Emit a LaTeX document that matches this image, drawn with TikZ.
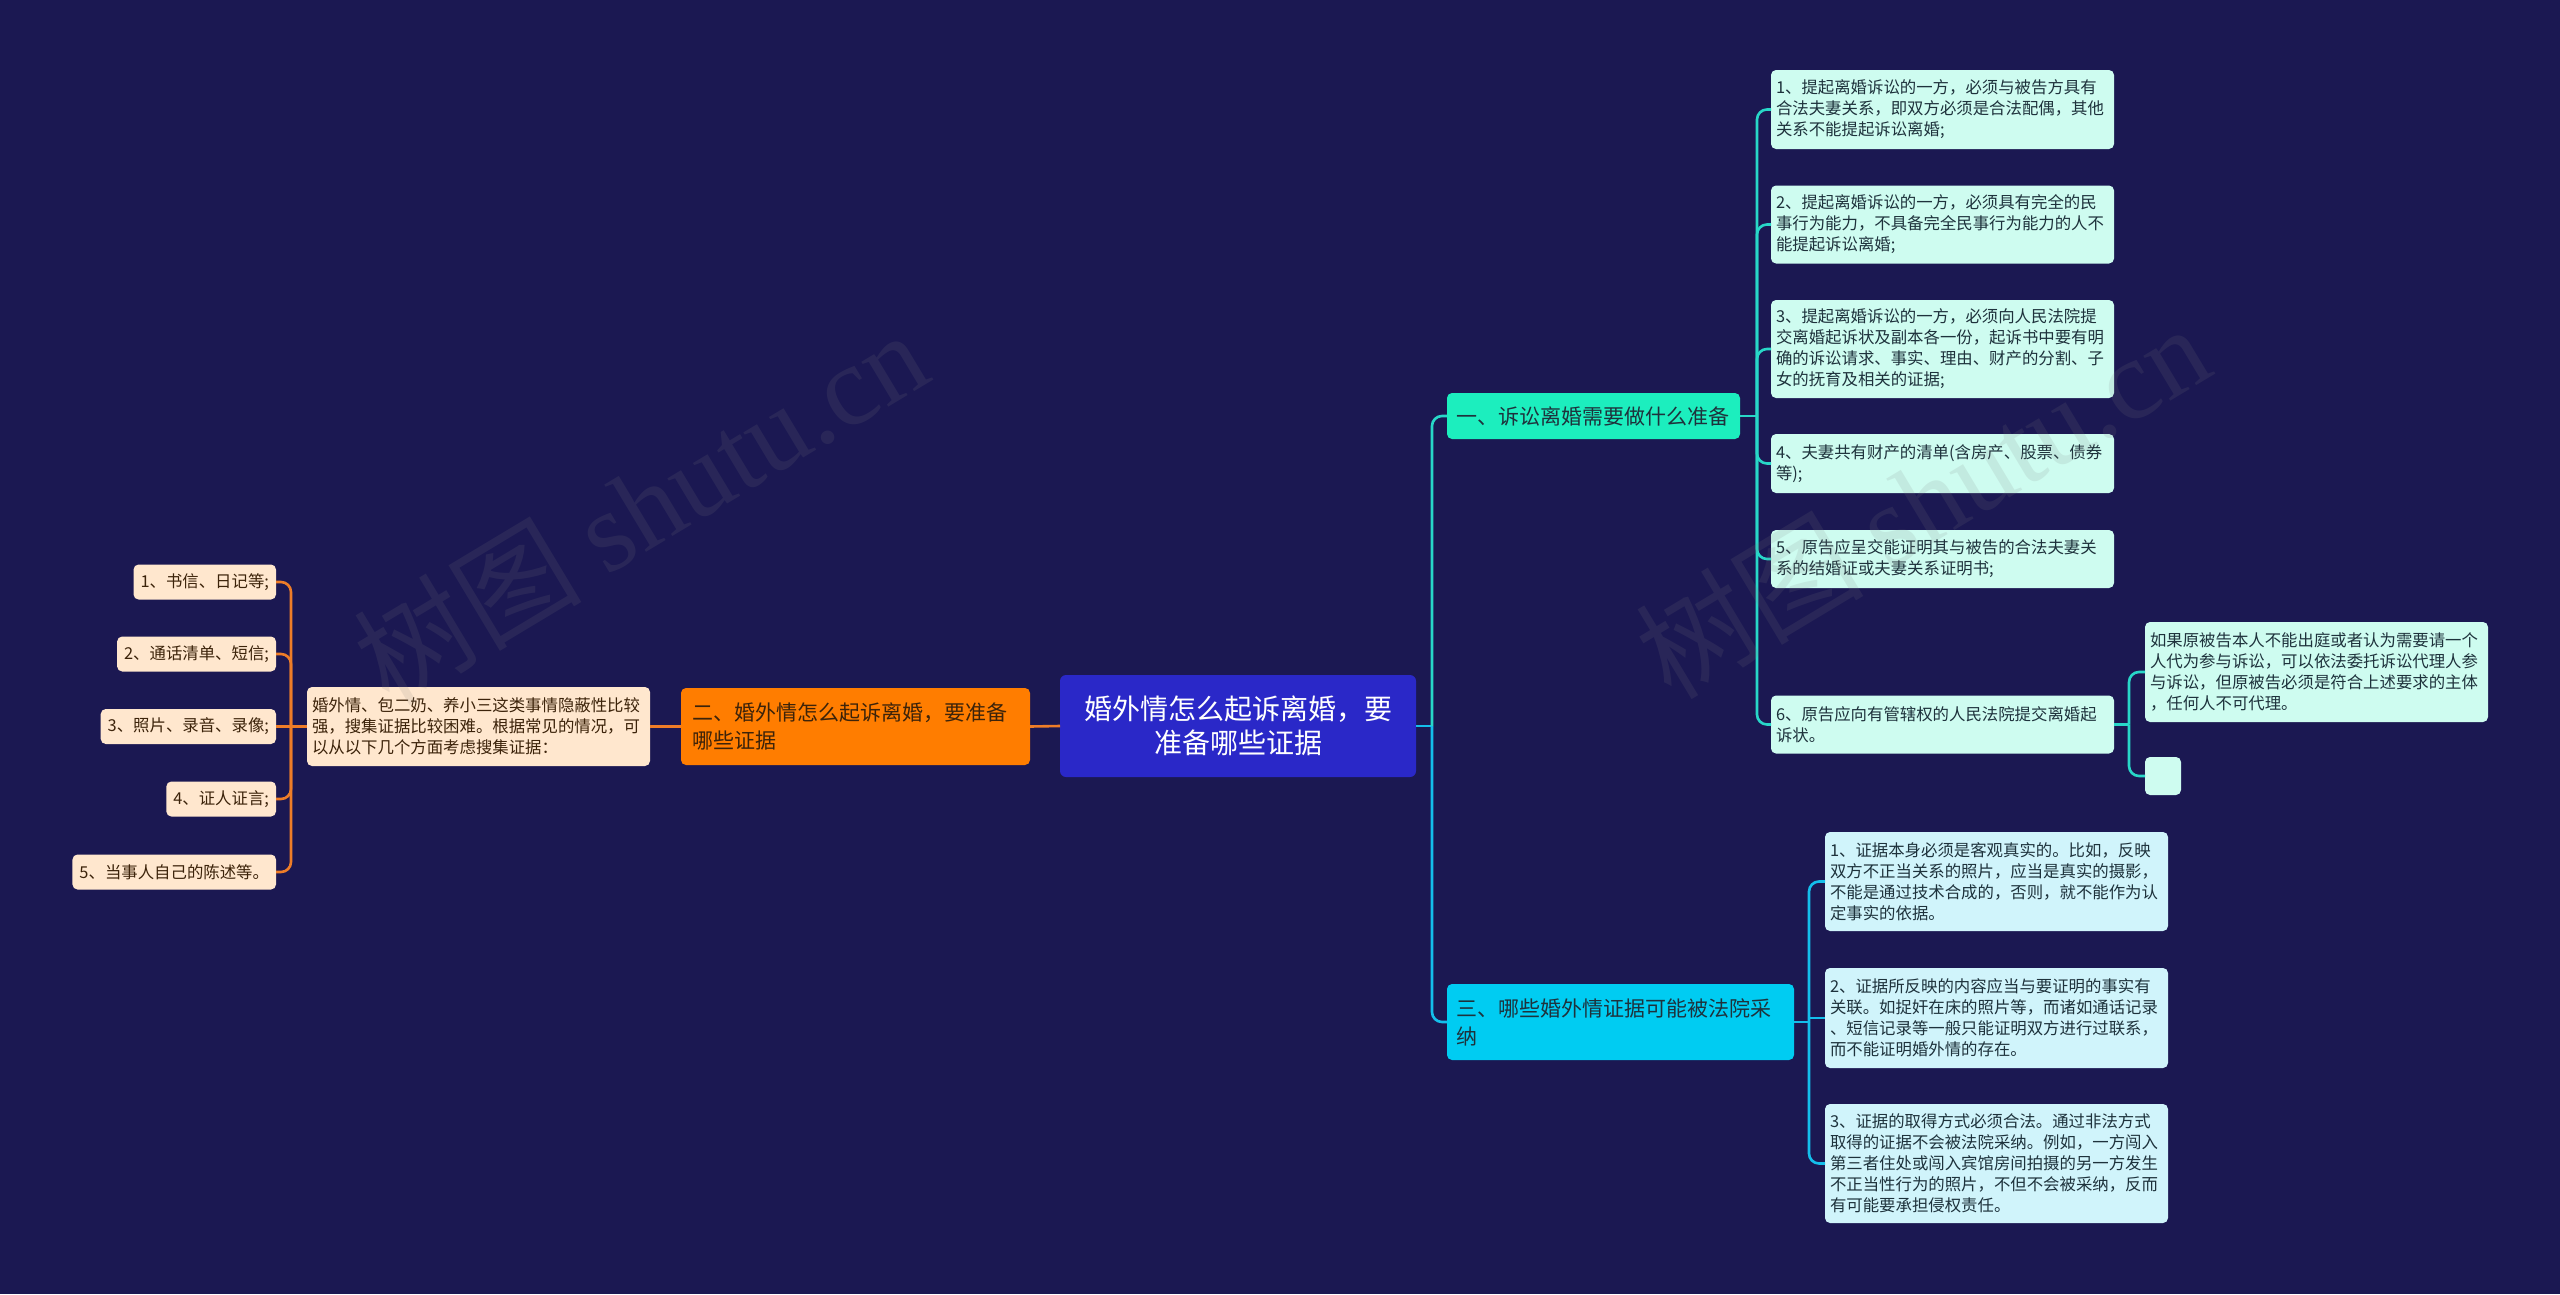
\documentclass[tikz,border=0pt]{standalone}
\usepackage{fontspec}
\setmainfont{Noto Sans CJK SC}
\newfontfamily\wmlatin{Liberation Serif}
\usetikzlibrary{calc}
\definecolor{bg}{RGB}{27,24,82}
\definecolor{rootc}{RGB}{42,40,200}
\definecolor{orgc}{RGB}{255,125,0}
\definecolor{orgline}{RGB}{238,125,40}
\definecolor{tealc}{RGB}{28,238,190}
\definecolor{tealline}{RGB}{40,215,200}
\definecolor{cyanc}{RGB}{0,204,242}
\definecolor{cyanline}{RGB}{20,190,235}
\definecolor{mint}{RGB}{206,252,240}
\definecolor{ice}{RGB}{208,244,251}
\definecolor{peach}{RGB}{255,231,206}
\definecolor{darktext}{RGB}{30,50,60}
\definecolor{browntext}{RGB}{60,35,10}
\newcommand\leaffont{\fontsize{16.4}{21}\selectfont}
\newcommand\branchfont{\fontsize{21}{28}\selectfont}
\newcommand\rootfont{\fontsize{28}{34}\selectfont}
\begin{document}
\begin{tikzpicture}[x=1pt,y=-1pt,
  box/.style={rounded corners=5pt, inner ysep=0pt, outer sep=0pt},
  leafR/.style={box, fill=mint, text=darktext, font=\leaffont, text width=333pt, inner xsep=5pt, align=left},
  leafB/.style={box, fill=ice, text=darktext, font=\leaffont, text width=333pt, inner xsep=5pt, align=left},
  leafL/.style={box, fill=peach, text=browntext, font=\leaffont, inner xsep=7pt, minimum height=35pt, anchor=east},
  rootbox/.style={box, rounded corners=6pt, fill=rootc, text=white, font=\rootfont, align=center, text width=340pt, inner xsep=8pt, minimum height=102pt},
  orgbox/.style={box, fill=orgc, text=browntext, font=\branchfont, align=left, text width=327pt, inner xsep=11pt, minimum height=77pt},
  tealbox/.style={box, fill=tealc, text=darktext, font=\branchfont, align=left, text width=275pt, inner xsep=9pt, minimum height=46pt},
  cyanbox/.style={box, fill=cyanc, text=darktext, font=\branchfont, align=left, text width=329pt, inner xsep=9pt, minimum height=76pt},
  tl/.style={draw=tealline, line width=2.6pt, rounded corners=10pt},
  cl/.style={draw=cyanline, line width=2.6pt, rounded corners=10pt},
  ol/.style={draw=orgline, line width=2.6pt, rounded corners=10pt},
  wm/.style={text=gray, opacity=0.14, font=\fontsize{114}{114}\selectfont, rotate=31}
]
\fill[bg] (0,0) rectangle (2560,1294);
\useasboundingbox (0,0) rectangle (2560,1294);

% root and main branches
\node[rootbox] (root) at (1238,726) {婚外情怎么起诉离婚，要\\准备哪些证据};
\node[orgbox] (b2) at (855.5,726.5) {二、婚外情怎么起诉离婚，要准备\\哪些证据};
\node[tealbox] (b1) at (1593.5,416) {一、诉讼离婚需要做什么准备};
\node[cyanbox] (b3) at (1620.5,1022) {三、哪些婚外情证据可能被法院采\\纳};

% left side
\node[box, fill=peach, text=browntext, font=\leaffont, text width=333pt, inner xsep=5pt, align=left, minimum height=79pt] (desc) at (478.5,726.5) {婚外情、包二奶、养小三这类事情隐蔽性比较\\强，搜集证据比较困难。根据常见的情况，可\\以从以下几个方面考虑搜集证据：};
\node[leafL] (l1) at (276,582) {1、书信、日记等;};
\node[leafL] (l2) at (276,654) {2、通话清单、短信;};
\node[leafL] (l3) at (276,726.5) {3、照片、录音、录像;};
\node[leafL] (l4) at (276,799) {4、证人证言;};
\node[leafL] (l5) at (276,872) {5、当事人自己的陈述等。};

% branch one leaves
\node[leafR, minimum height=79pt] (r1) at (1942.5,109.5) {1、提起离婚诉讼的一方，必须与被告方具有\\合法夫妻关系，即双方必须是合法配偶，其他\\关系不能提起诉讼离婚;};
\node[leafR, minimum height=78pt] (r2) at (1942.5,224.5) {2、提起离婚诉讼的一方，必须具有完全的民\\事行为能力，不具备完全民事行为能力的人不\\能提起诉讼离婚;};
\node[leafR, minimum height=98pt] (r3) at (1942.5,349) {3、提起离婚诉讼的一方，必须向人民法院提\\交离婚起诉状及副本各一份，起诉书中要有明\\确的诉讼请求、事实、理由、财产的分割、子\\女的抚育及相关的证据;};
\node[leafR, minimum height=59pt] (r4) at (1942.5,463.5) {4、夫妻共有财产的清单(含房产、股票、债券\\等);};
\node[leafR, minimum height=58pt] (r5) at (1942.5,559) {5、原告应呈交能证明其与被告的合法夫妻关\\系的结婚证或夫妻关系证明书;};
\node[leafR, minimum height=58pt] (r6) at (1942.5,724.5) {6、原告应向有管辖权的人民法院提交离婚起\\诉状。};
\node[leafR, minimum height=100pt] (r6a) at (2316.5,672) {如果原被告本人不能出庭或者认为需要请一个\\人代为参与诉讼，可以依法委托诉讼代理人参\\与诉讼，但原被告必须是符合上述要求的主体\\，任何人不可代理。};
\node[box, fill=mint, minimum width=36pt, minimum height=38pt] (r6b) at (2163,776) {};

% branch three leaves
\node[leafB, minimum height=99pt] (s1) at (1996.5,881.5) {1、证据本身必须是客观真实的。比如，反映\\双方不正当关系的照片，应当是真实的摄影，\\不能是通过技术合成的，否则，就不能作为认\\定事实的依据。};
\node[leafB, minimum height=100pt] (s2) at (1996.5,1018) {2、证据所反映的内容应当与要证明的事实有\\关联。如捉奸在床的照片等，而诸如通话记录\\、短信记录等一般只能证明双方进行过联系，\\而不能证明婚外情的存在。};
\node[leafB, minimum height=119pt] (s3) at (1996.5,1163.5) {3、证据的取得方式必须合法。通过非法方式\\取得的证据不会被法院采纳。例如，一方闯入\\第三者住处或闯入宾馆房间拍摄的另一方发生\\不正当性行为的照片，不但不会被采纳，反而\\有可能要承担侵权责任。};

% junctions
\coordinate (jr) at (1432,726);
\coordinate (j1) at (1757,416);
\coordinate (j6) at (2129,724.5);
\coordinate (j3) at (1809,1022);
\coordinate (jl) at (291,726.5);

% connectors: root
\draw[cl, rounded corners=0pt] (root.east) -- (jr);
\draw[tl] (jr) |- (b1.west);
\draw[cl] (jr) |- (b3.west);
\draw[ol] (root.west) -- (b2.east);
\draw[ol] (b2.west) -- (desc.east);

% left
\draw[ol] (desc.west) -- (jl);
\draw[ol] (jl) |- (l1.east);
\draw[ol] (jl) |- (l2.east);
\draw[ol] (jl) -- (l3.east);
\draw[ol] (jl) |- (l4.east);
\draw[ol] (jl) |- (l5.east);

% branch one
\draw[tl] (b1.east) -- (j1);
\draw[tl] (j1) |- (r1.west);
\draw[tl] (j1) |- (r2.west);
\draw[tl] (j1) |- (r3.west);
\draw[tl] (j1) |- (r4.west);
\draw[tl] (j1) |- (r5.west);
\draw[tl] (j1) |- (r6.west);
\draw[tl] (r6.east) -- (j6);
\draw[tl] (j6) |- (r6a.west);
\draw[tl] (j6) |- (r6b.west);

% branch three
\draw[cl] (b3.east) -- (j3);
\draw[cl] (j3) |- (s1.west);
\draw[cl, rounded corners=0pt] (j3 |- s2.west) -- (s2.west);
\draw[cl] (j3) |- (s3.west);

% watermark
\node[wm] (wm1) at (640,506) {树图 {\wmlatin shutu.cn}};
\node[wm] (wm2) at (1922,500) {树图 {\wmlatin shutu.cn}};
\end{tikzpicture}
\end{document}
